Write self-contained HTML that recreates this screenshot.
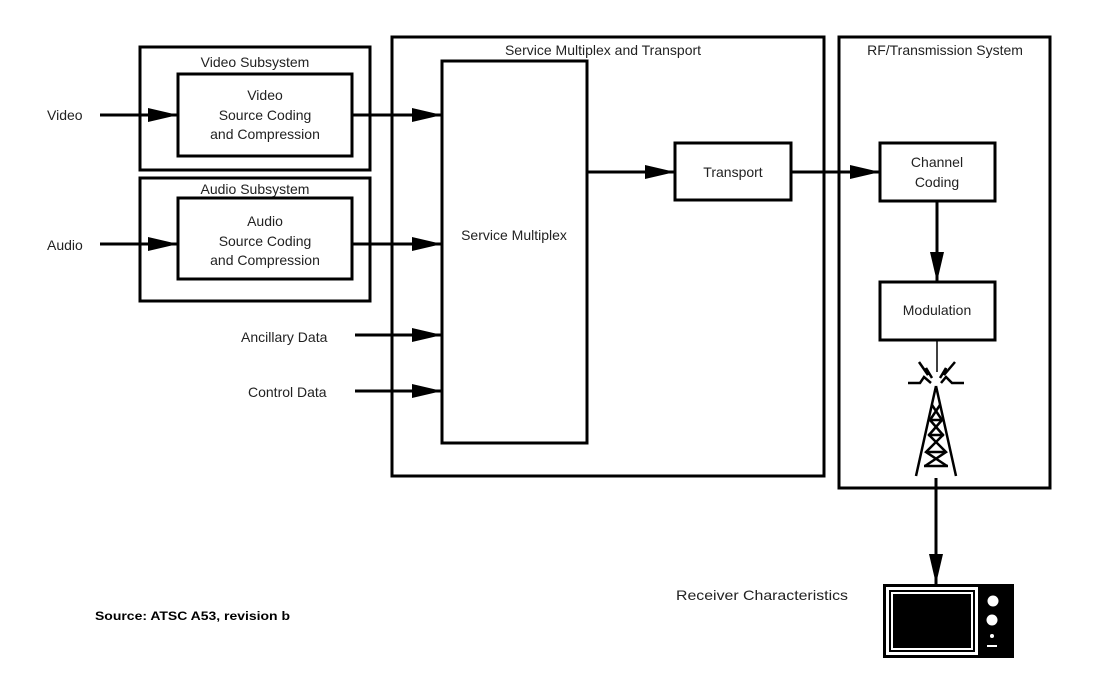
<!DOCTYPE html>
<html><head><meta charset="utf-8"><style>
html,body{margin:0;padding:0;background:#fff;}
svg{display:block;}
text{font-family:"Liberation Sans",sans-serif;font-size:14px;fill:#222;}
</style></head><body>
<svg width="1113" height="679" viewBox="0 0 1113 679" xmlns="http://www.w3.org/2000/svg">
<defs>
<marker id="a" markerWidth="30" markerHeight="16" refX="30" refY="8" orient="auto" markerUnits="userSpaceOnUse">
<path d="M0,1 L30,8 L0,15 Z" fill="#000"/></marker>
</defs>
<g fill="none" stroke="#000" stroke-width="3">
<rect x="140" y="47" width="230" height="123"/>
<rect x="178" y="74" width="174" height="82"/>
<rect x="140" y="178" width="230" height="123"/>
<rect x="178" y="198" width="174" height="81"/>
<rect x="392" y="37" width="432" height="439"/>
<rect x="442" y="61" width="145" height="382"/>
<rect x="675" y="143" width="116" height="57"/>
<rect x="839" y="37" width="211" height="451"/>
<rect x="880" y="143" width="115" height="58"/>
<rect x="880" y="282" width="115" height="58"/>
</g>
<g stroke="#000" stroke-width="3" fill="none">
<line x1="100" y1="115" x2="178" y2="115" marker-end="url(#a)"/>
<line x1="352" y1="115" x2="442" y2="115" marker-end="url(#a)"/>
<line x1="100" y1="244" x2="178" y2="244" marker-end="url(#a)"/>
<line x1="352" y1="244" x2="442" y2="244" marker-end="url(#a)"/>
<line x1="355" y1="335" x2="442" y2="335" marker-end="url(#a)"/>
<line x1="355" y1="391" x2="442" y2="391" marker-end="url(#a)"/>
<line x1="587" y1="172" x2="675" y2="172" marker-end="url(#a)"/>
<line x1="791" y1="172" x2="880" y2="172" marker-end="url(#a)"/>
<line x1="937" y1="201" x2="937" y2="282" marker-end="url(#a)"/>
<line x1="936" y1="478" x2="936" y2="584" marker-end="url(#a)"/>
</g>
<line x1="937" y1="340" x2="937" y2="372" stroke="#000" stroke-width="1.5"/>
<!-- tower -->
<g stroke="#000" stroke-width="2.5" fill="none">
<path d="M936,386 L916,476 M936,386 L956,476"/>
<path d="M932,405 L942,420 L929,435 L946,452 L925,466 M940,405 L930,420 L943,435 L926,452 L947,466"/>
<path d="M930,420 H942 M928,435 H944 M926,452 H946 M924,466 H948"/>
<path d="M908,383 H920 L924,377 L931,383 M941,383 L946,377 L952,383 H964"/>
<path d="M919,362 L928,375 L926,368 L932,378 M955,362 L944,375 L946,368 L940,378"/>
</g>
<!-- TV -->
<rect x="883" y="584" width="131" height="74" fill="#000"/>
<rect x="886" y="587" width="92" height="68" fill="#fff"/>
<rect x="889" y="590" width="86" height="62" fill="#000"/>
<rect x="891" y="592" width="82" height="58" fill="#fff"/>
<rect x="893" y="594" width="78" height="54" fill="#000"/>
<circle cx="993" cy="601" r="5.5" fill="#fff"/>
<circle cx="992" cy="620" r="5.5" fill="#fff"/>
<circle cx="992" cy="636" r="2" fill="#fff"/>
<rect x="987" y="645" width="10" height="2" fill="#fff"/>
<g text-anchor="middle">
<text x="255" y="67">Video Subsystem</text>
<text x="265" y="100">Video</text>
<text x="265" y="120">Source Coding</text>
<text x="265" y="139">and Compression</text>
<text x="255" y="194">Audio Subsystem</text>
<text x="265" y="226">Audio</text>
<text x="265" y="246">Source Coding</text>
<text x="265" y="265">and Compression</text>
<text x="603" y="55">Service Multiplex and Transport</text>
<text x="514" y="240">Service Multiplex</text>
<text x="733" y="177">Transport</text>
<text x="945" y="55">RF/Transmission System</text>
<text x="937" y="167">Channel</text>
<text x="937" y="187">Coding</text>
<text x="937" y="315">Modulation</text>
</g>
<text x="47" y="120">Video</text>
<text x="47" y="250">Audio</text>
<text x="241" y="342">Ancillary Data</text>
<text x="248" y="397">Control Data</text>
<text x="676" y="600" textLength="172" lengthAdjust="spacingAndGlyphs">Receiver Characteristics</text>
<text x="95" y="620" textLength="195" lengthAdjust="spacingAndGlyphs" style="font-size:12px;font-weight:bold;fill:#000">Source: ATSC A53, revision b</text>
</svg>
</body></html>
